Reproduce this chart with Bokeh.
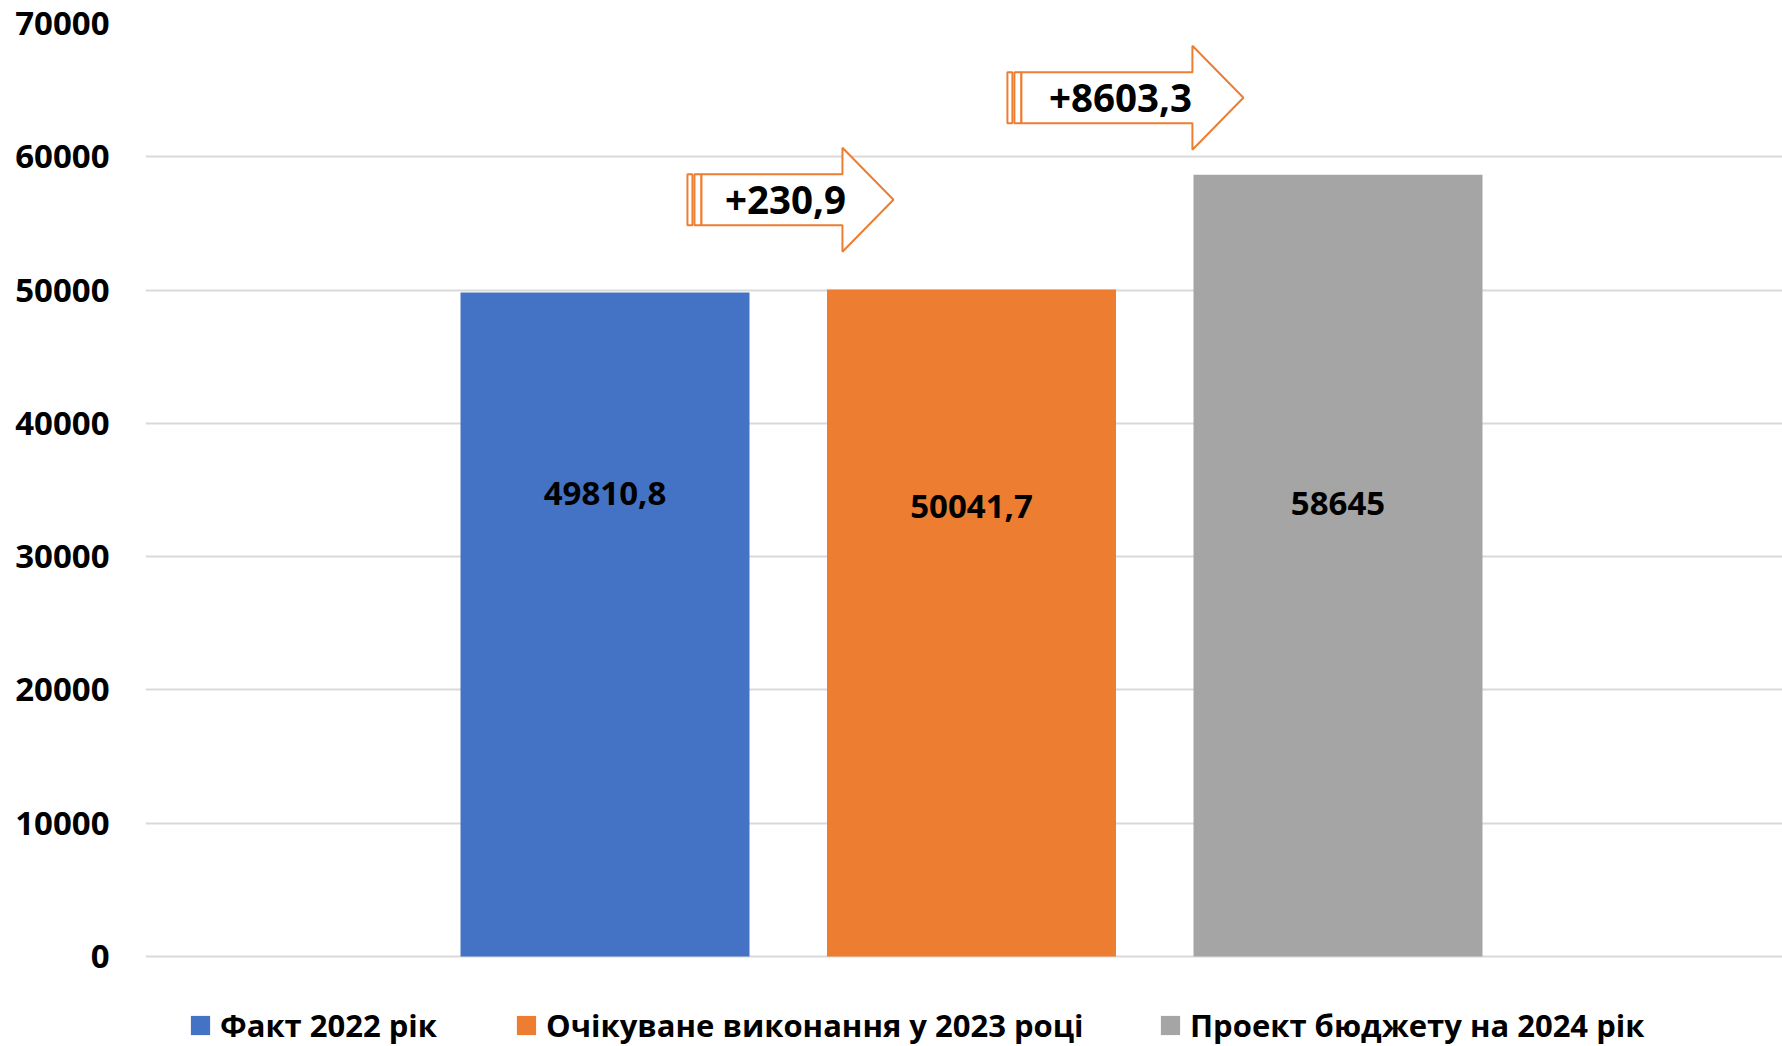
import numpy as np
from bokeh.plotting import figure
from bokeh.models import Range1d, ColumnDataSource, Legend, LegendItem, FixedTicker
from bokeh.core.properties import value
from bokeh.embed import file_html
from bokeh.resources import INLINE

# ---------------- data ----------------
categories = ["Факт 2022 рік", "Очікуване виконання у 2023 році", "Проект бюджету на 2024 рік"]
values = [49810.8, 50041.7, 58645.0]
colors = ["#4472C4", "#ED7D31", "#A5A5A5"]
y_ticks = [0, 10000, 20000, 30000, 40000, 50000, 60000, 70000]

# label / annotation positions (data units)
label_y = [34725, 33750, 33975]
arrow_x0 = [0.225, 1.098]
arrow_yc = [56775, 64425]
arrow_len_px = [206, 236]

FONT = "Open Sans"

def fmt(v):
    s = f"{v:.1f}"
    if s.endswith(".0"):
        s = s[:-2]
    return s.replace(".", ",")

# ---------------- layout ----------------
W, H = 1782, 1046
B_LEFT, B_TOP = 145, 23
ZERO_PX = 956          # pixel row of the value 0
y_max = 70000
px_y = (ZERO_PX - B_TOP) / y_max
y_start = -(H - ZERO_PX) / px_y
frame_w = W - B_LEFT
px_x = 366.5
x_start = -(604.5 - B_LEFT) / px_x
x_end = x_start + frame_w / px_x

p = figure(width=W, height=H, output_backend="svg", toolbar_location=None,
           x_range=Range1d(x_start, x_end), y_range=Range1d(y_start, y_max),
           min_border_left=B_LEFT, min_border_right=0,
           min_border_top=B_TOP, min_border_bottom=0)
p.outline_line_color = None
p.background_fill_color = "white"
p.xaxis.visible = False
p.xgrid.visible = False
p.ygrid.grid_line_color = "#D9D9D9"
p.ygrid.grid_line_width = 2

ya = p.yaxis[0]
ya.ticker = FixedTicker(ticks=y_ticks)
ya.axis_line_color = None
ya.major_tick_line_color = None
ya.minor_tick_line_color = None
ya.major_tick_out = 0
ya.major_tick_in = 0
ya.minor_tick_out = 0
ya.major_label_standoff = 36
ya.major_label_text_font = FONT
ya.major_label_text_font_style = "bold"
ya.major_label_text_font_size = "33px"
ya.major_label_text_color = "black"

src = ColumnDataSource(dict(
    x=np.arange(len(categories)),
    top=values,
    color=colors,
    label=categories,
    text=[fmt(v) for v in values],
    ly=label_y,
))

bars = p.vbar(x="x", top="top", bottom=0, width=0.7885, fill_color="color", line_color=None, source=src)

p.text(x="x", y="ly", text="text", source=src, text_align="center", text_baseline="middle",
       text_font=value(FONT), text_font_style="bold", text_font_size="33px", text_color="black")

# ---------------- arrows ----------------
diffs = [values[i + 1] - values[i] for i in range(len(values) - 1)]
xs, ys = [], []
tx, ty, tt = [], [], []
for x0, yc, L, d in zip(arrow_x0, arrow_yc, arrow_len_px, diffs):
    def X(px):
        return x0 + px / px_x
    def Y(py):
        return yc + py / px_y
    bh, hh, hl = 25.5, 52, 51
    for a, b in [(0, 5), (7, 14)]:
        xs.append([X(a), X(b), X(b), X(a)])
        ys.append([Y(bh), Y(bh), Y(-bh), Y(-bh)])
    xs.append([X(14), X(L - hl), X(L - hl), X(L), X(L - hl), X(L - hl), X(14)])
    ys.append([Y(bh), Y(bh), Y(hh), Y(0), Y(-hh), Y(-bh), Y(-bh)])
    tx.append(X(L / 2 - 5))
    ty.append(yc)
    tt.append("+" + fmt(d))

p.patches(xs, ys, fill_color="white", line_color="#ED7D31", line_width=2)
p.text(x=tx, y=ty, text=tt, text_align="center", text_baseline="middle",
       text_font=value(FONT), text_font_style="bold", text_font_size="38.5px", text_color="black")

# ---------------- legend ----------------
legend_x = [43, 369, 1013]
for i, lx in enumerate(legend_x):
    leg = Legend(items=[LegendItem(label=categories[i], renderers=[bars], index=i)],
                 location=(lx, 0), orientation="horizontal",
                 glyph_width=24, glyph_height=24, label_standoff=8,
                 padding=0, margin=0, border_line_color=None, background_fill_alpha=0,
                 label_text_font=FONT, label_text_font_style="bold",
                 label_text_font_size="31px", label_text_color="black")
    p.add_layout(leg)

open("out.html", "w").write(file_html(p, INLINE))
